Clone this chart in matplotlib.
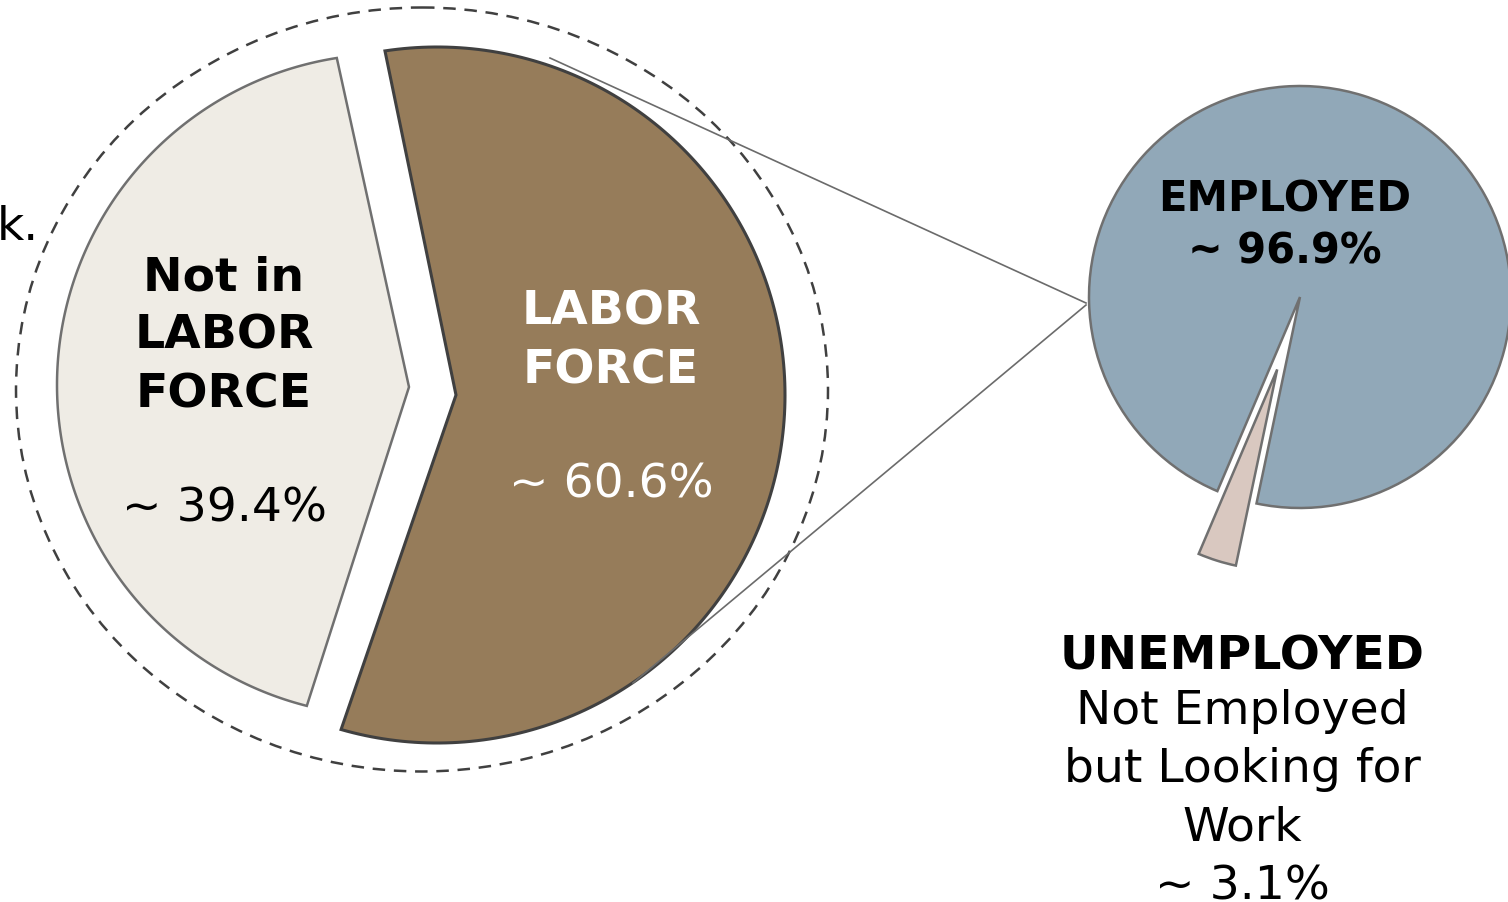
import matplotlib
matplotlib.use("Agg")
import matplotlib.pyplot as plt
import numpy as np
from matplotlib.patches import Polygon, Ellipse

# data
outer_labels = ["Not in\nLABOR\nFORCE", "LABOR\nFORCE"]
outer_shares = [39.4, 60.6]
inner_labels = ["EMPLOYED", "UNEMPLOYED"]
inner_shares = [96.9, 3.1]
unemp_note = "Not Employed\nbut Looking for\nWork"

W, H = 1508, 902
fig = plt.figure(figsize=(W / 100, H / 100), dpi=100)

# small pie first, main drawing axes on top of it
cx, cy, r = 1300, 297, 211
ax2 = fig.add_axes([(cx - r) / W, 1 - (cy + r) / H, 2 * r / W, 2 * r / H])
wedges, _ = ax2.pie(inner_shares, explode=[0, 0.36], startangle=-101.9,
                    colors=["#91A8B8", "#D9C8C0"],
                    wedgeprops=dict(ec="#707070", lw=1.8))
wedges[1].set_radius(0.95)
for w in wedges:
    w.set_clip_on(False)
ax2.set_xlim(-1, 1)
ax2.set_ylim(-1, 1)
ax2.axis("off")

ax = fig.add_axes([0, 0, 1, 1])
ax.set_xlim(0, W)
ax.set_ylim(H, 0)
ax.axis("off")
ax2.set_zorder(0)
ax.set_zorder(1)


def arc(cx, cy, r, t0, t1, n=200):
    t = np.radians(np.linspace(t0, t1, n))
    return np.column_stack([cx + r * np.cos(t), cy - r * np.sin(t)])


# dashed outline round the big circle
ax.add_patch(Ellipse((422, 389.5), 812, 764, fill=False, ec="#404040",
                     lw=1.8, ls=(0, (5, 3.5)), zorder=1))

# left piece (not in labor force), chevron on its right side
left = np.vstack([arc(388, 385, 331, 98.9, 255.8), [[409, 387]]])
ax.add_patch(Polygon(left, closed=True, fc="#EFECE5", ec="#707070",
                     lw=1.8, joinstyle="miter", zorder=2))

# right piece (labor force), notch on its left side
right = np.vstack([arc(437, 395, 348, 254.0, 458.6), [[456, 395]]])
ax.add_patch(Polygon(right, closed=True, fc="#967C5A", ec="#404040",
                     lw=2.2, joinstyle="miter", zorder=2))

# connector lines to the small pie
ax.plot([550, 1086], [58, 303], color="#6b6b6b", lw=1.2, zorder=3)
ax.plot([633, 1086], [683, 305], color="#6b6b6b", lw=1.2, zorder=3)

# labels of the big circle (va baseline = last line's baseline)
ax.text(224, 407, outer_labels[0], ha="center", va="baseline", fontsize=34,
        fontweight="bold", linespacing=1.38, color="black", zorder=4)
ax.text(224, 522, "~ {:.1f}%".format(outer_shares[0]), ha="center",
        va="baseline", fontsize=34, color="black", zorder=4)
ax.text(611, 383, outer_labels[1], ha="center", va="baseline", fontsize=34,
        fontweight="bold", linespacing=1.38, color="white", zorder=4)
ax.text(611, 498, "~ {:.1f}%".format(outer_shares[1]), ha="center",
        va="baseline", fontsize=34, color="white", zorder=4)

# cut off text at left edge
ax.text(-3, 240, "k.", ha="left", va="baseline", fontsize=34, color="black")

# labels of the small pie
ax.text(1285, 263, "{}\n~ {:.1f}%".format(inner_labels[0], inner_shares[0]),
        ha="center", va="baseline", fontsize=30, fontweight="bold",
        linespacing=1.3, color="black", zorder=4)
ax.text(1242, 670, inner_labels[1], ha="center", va="baseline", fontsize=34,
        fontweight="bold", color="black", zorder=4)
ax.text(1242, 899, "{}\n~ {:.1f}%".format(unemp_note, inner_shares[1]),
        ha="center", va="baseline", fontsize=34, linespacing=1.38,
        color="black", zorder=4)

fig.savefig("out.png", dpi=100)
